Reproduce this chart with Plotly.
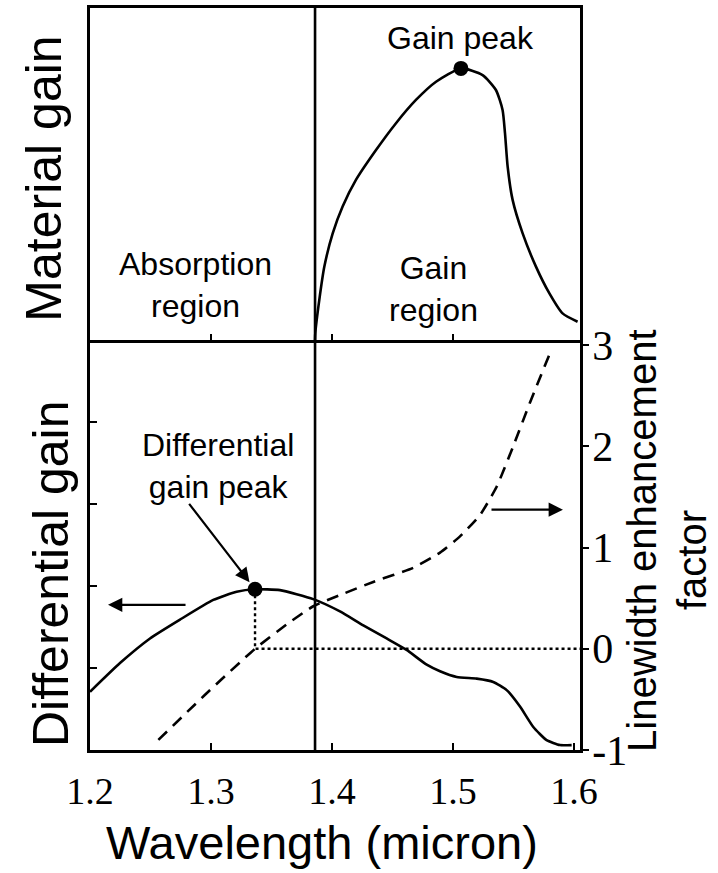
import plotly.graph_objects as go

# Material gain spectrum (arbitrary units)
gain_wl = [1.386, 1.3862, 1.3895, 1.3937, 1.4006, 1.4088, 1.4198, 1.4364, 1.4529,
           1.4694, 1.486, 1.5066, 1.5245, 1.5355, 1.541, 1.543, 1.5452, 1.5493,
           1.5576, 1.5686, 1.5796, 1.5906, 1.603]
gain_val = [0.0, 0.20, 1.20, 2.21, 3.21, 4.02, 4.82, 5.72, 6.53,
            7.23, 7.78, 8.18, 7.98, 7.53, 6.93, 6.23, 5.22, 4.22,
            3.21, 2.21, 1.41, 0.80, 0.55]

# Differential gain (arbitrary units, left axis)
dg_wl = [1.2, 1.2248, 1.2496, 1.2744, 1.3019, 1.3212, 1.3364, 1.357, 1.3845,
         1.4066, 1.4259, 1.4452, 1.4617, 1.4783, 1.4893, 1.5031, 1.5196, 1.5333,
         1.5444, 1.5554, 1.5664, 1.5774, 1.5884, 1.5981]
dg_val = [0.71, 1.06, 1.36, 1.59, 1.83, 1.93, 1.96, 1.95, 1.84,
          1.69, 1.52, 1.36, 1.22, 1.04, 0.96, 0.89, 0.87, 0.83,
          0.73, 0.53, 0.28, 0.12, 0.06, 0.06]

# Linewidth enhancement factor (right axis)
alpha_wl = [1.2565, 1.2964, 1.3364, 1.3625, 1.3845, 1.4066, 1.4341, 1.4672, 1.4893,
            1.5058, 1.5223, 1.5361, 1.5498, 1.5636, 1.5802]
alpha_val = [-0.90, -0.44, 0.0, 0.24, 0.42, 0.53, 0.66, 0.80, 0.95,
             1.11, 1.32, 1.60, 2.0, 2.43, 2.92]

x_ticks = [1.2, 1.3, 1.4, 1.5, 1.6]
x_ticktext = ["1.2", "1.3", "1.4", "1.5", "1.6"]
alpha_ticks = [-1, 0, 1, 2, 3]
alpha_ticktext = ["-1", "0", "1", "2", "3"]

edge_wl = 1.386          # boundary between absorption and gain regions
gain_peak = (1.5066, 8.18)
dg_peak = (1.3364, 1.96)

X_RANGE = [1.2, 1.605]
DG_RANGE = [0, 5]
ALPHA_RANGE = [-1.0, 3.05]
GAIN_RANGE = [0, 10]
SPLIT = 0.5526

SANS = "Liberation Sans, Arial, sans-serif"
SERIF = "Liberation Serif, Times New Roman, serif"
LW = 2.6


def alpha_to_dg(v):
    """Express a right-axis value in left-axis units of the lower panel."""
    f = (v - ALPHA_RANGE[0]) / (ALPHA_RANGE[1] - ALPHA_RANGE[0])
    return DG_RANGE[0] + f * (DG_RANGE[1] - DG_RANGE[0])


fig = go.Figure()

fig.add_trace(go.Scatter(x=gain_wl, y=gain_val, xaxis="x2", yaxis="y2", mode="lines",
                         line=dict(color="black", width=LW, shape="spline", smoothing=0.6)))
fig.add_trace(go.Scatter(x=[gain_peak[0]], y=[gain_peak[1]], xaxis="x2", yaxis="y2",
                         mode="markers", marker=dict(color="black", size=15)))

fig.add_trace(go.Scatter(x=dg_wl, y=dg_val, xaxis="x", yaxis="y", mode="lines",
                         line=dict(color="black", width=LW, shape="spline", smoothing=0.5)))
fig.add_trace(go.Scatter(x=alpha_wl, y=alpha_val, xaxis="x", yaxis="y3", mode="lines",
                         line=dict(color="black", width=LW, dash="12px,8px",
                                   shape="spline", smoothing=0.5)))

# dotted guides from the differential gain peak to alpha = 0
zero_dg = alpha_to_dg(0)
fig.add_trace(go.Scatter(x=[dg_peak[0], dg_peak[0], X_RANGE[1]],
                         y=[dg_peak[1], zero_dg, zero_dg], xaxis="x", yaxis="y",
                         mode="lines", line=dict(color="black", width=2.4, dash="dot")))
fig.add_trace(go.Scatter(x=[dg_peak[0]], y=[dg_peak[1]], xaxis="x", yaxis="y",
                         mode="markers", marker=dict(color="black", size=15)))

shapes = [dict(type="line", xref="x", yref="paper", x0=edge_wl, x1=edge_wl, y0=0, y1=1,
               line=dict(color="black", width=LW))]

ann_font = dict(family=SANS, size=32, color="black")
annotations = [
    dict(x=gain_peak[0], y=9.1, xref="x2", yref="y2", text="Gain peak",
         showarrow=False, font=ann_font),
    dict(x=1.2868, y=1.66, xref="x2", yref="y2", text="Absorption<br>region",
         showarrow=False, font=ann_font),
    dict(x=1.4835, y=1.55, xref="x2", yref="y2", text="Gain<br>region",
         showarrow=False, font=ann_font),
    dict(x=1.3058, y=3.46, xref="x", yref="y", text="Differential<br>gain peak",
         showarrow=False, font=ann_font),
    # pointer to the differential gain peak
    dict(x=dg_peak[0], y=dg_peak[1], xref="x", yref="y", ax=1.281, ay=3.02,
         axref="x", ayref="y", text="", showarrow=True, arrowhead=2, arrowsize=1.3,
         arrowwidth=2.2, arrowcolor="black", standoff=9),
    # axis indicators
    dict(x=1.2149, y=1.77, xref="x", yref="y", ax=1.2802, ay=1.77, axref="x", ayref="y",
         text="", showarrow=True, arrowhead=2, arrowsize=1.3, arrowwidth=2.2,
         arrowcolor="black"),
    dict(x=1.5909, y=2.93, xref="x", yref="y", ax=1.5306, ay=2.93, axref="x", ayref="y",
         text="", showarrow=True, arrowhead=2, arrowsize=1.3, arrowwidth=2.2,
         arrowcolor="black"),
]

title_font = dict(family=SANS, size=50, color="black")
side_font = dict(family=SANS, size=40, color="black")
centered = dict(xref="paper", yref="paper", xanchor="center", yanchor="middle",
                showarrow=False)
annotations += [
    dict(x=-0.0939, y=0.770, text="Material gain", textangle=-90, font=title_font,
         **centered),
    dict(x=-0.0796, y=0.2385, text="Differential gain", textangle=-90, font=title_font,
         **centered),
    dict(x=1.1265, y=0.283, text="Linewidth enhancement", textangle=-90, font=side_font,
         **centered),
    dict(x=1.2286, y=0.256, text="factor", textangle=-90, font=side_font, **centered),
    dict(x=0.4735, y=-0.1625, xref="paper", yref="paper", xanchor="center",
         yanchor="bottom", showarrow=False, text="Wavelength (micron)",
         font=dict(family=SANS, size=47, color="black")),
]

axis_line = dict(showline=True, linecolor="black", linewidth=LW, showgrid=False,
                 zeroline=False)

fig.update_layout(
    width=718, height=873,
    margin=dict(l=90, r=138, t=8, b=123, autoexpand=False),
    paper_bgcolor="white", plot_bgcolor="white",
    showlegend=False,
    shapes=shapes, annotations=annotations,
    xaxis=dict(**axis_line, domain=[0, 1], anchor="y", range=X_RANGE, mirror=False,
               tickmode="array", tickvals=x_ticks, ticktext=x_ticktext,
               ticks="inside", ticklen=7, tickwidth=2, tickcolor="black",
               tickfont=dict(family=SERIF, size=38, color="black"),
               ticklabelstandoff=6),
    xaxis2=dict(**axis_line, domain=[0, 1], anchor="y2", range=X_RANGE, mirror=True,
                matches="x", showticklabels=False, tickmode="array",
                tickvals=x_ticks[1:-1], ticks="inside", ticklen=6, tickwidth=2,
                tickcolor="black"),
    yaxis=dict(**axis_line, domain=[0, SPLIT], anchor="x", range=DG_RANGE,
               tickmode="array", tickvals=[1, 2, 3, 4], showticklabels=False,
               ticks="inside", ticklen=7, tickwidth=2, tickcolor="black"),
    yaxis2=dict(**axis_line, domain=[SPLIT, 1], anchor="x2", range=GAIN_RANGE,
                mirror=True, showticklabels=False, ticks=""),
    yaxis3=dict(**axis_line, overlaying="y", side="right", anchor="x", range=ALPHA_RANGE,
                tickmode="array", tickvals=alpha_ticks, ticktext=alpha_ticktext,
                ticks="outside", ticklen=6, tickwidth=2, tickcolor="black",
                tickfont=dict(family=SERIF, size=42, color="black"),
                ticklabelstandoff=-5),
)

fig.write_html("out.html")
